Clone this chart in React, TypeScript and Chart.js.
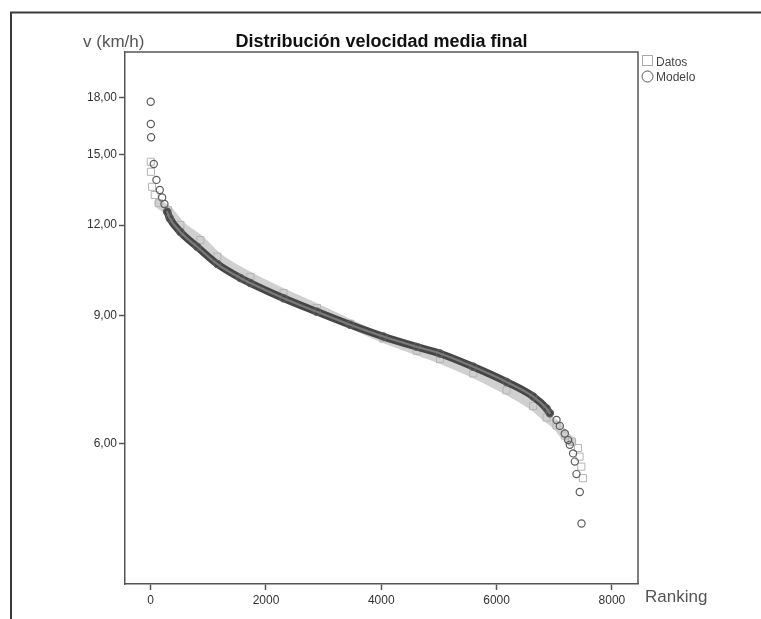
import React, { useEffect, useRef } from "react";
import { Chart, registerables } from "chart.js";

Chart.register(...registerables);

// ---- texts ----
const chartTitle = "Distribución velocidad media final";
const yAxisTitle = "v (km/h)";
const xAxisTitle = "Ranking";
const seriesNames = ["Datos", "Modelo"];

// ---- ticks ----
const yTicks = [6, 9, 12, 15, 18];
const xTicks = [0, 2000, 4000, 6000, 8000];

// ---- series: Datos (observed) ----
const datosRank = [1, 4, 25, 70, 140, 300, 516, 862, 1157, 1728, 2305, 2883, 3460, 4036, 4615, 5018, 5595, 6173, 6634, 6866, 7039, 7183, 7307, 7410, 7439, 7469, 7496];
const datosValue = [14.67, 14.21, 13.55, 13.2, 12.86, 12.58, 12.0, 11.44, 10.85, 10.18, 9.67, 9.22, 8.77, 8.37, 8.05, 7.84, 7.49, 7.1, 6.75, 6.51, 6.35, 6.15, 6.03, 5.91, 5.75, 5.57, 5.37];

// ---- series: Modelo (fitted) ----
const modeloRank = [1, 3, 8, 54, 100, 158, 199, 239, 286, 331, 516, 805, 1157, 1555, 1728, 2305, 2883, 3460, 4036, 4615, 5018, 5595, 6173, 6634, 6866, 6923, 7039, 7096, 7183, 7240, 7269, 7326, 7356, 7385, 7442, 7472];
const modeloValue = [17.75, 16.54, 15.86, 14.57, 13.85, 13.41, 13.1, 12.83, 12.52, 12.26, 11.74, 11.2, 10.6, 10.14, 9.98, 9.51, 9.11, 8.74, 8.42, 8.15, 7.98, 7.65, 7.29, 6.96, 6.7, 6.6, 6.46, 6.34, 6.19, 6.06, 5.97, 5.81, 5.66, 5.44, 5.14, 4.65];

// rank ranges where the markers are so dense they merge into a band
const datosBand = [140, 7307];
const modeloBand = [286, 6923];

// axis ranges
const xMin = -445;
const xMax = 8452;
const yMin = 3.837;
const yMax = 20.79;

const FONT = '"Liberation Sans", Arial, sans-serif';

const toPoints = (xs: number[], ys: number[]) => xs.map((x, i) => ({ x, y: ys[i] }));

const bandSegment = (ranks: number[], band: number[]) => (ctx: any) => {
  const a = ranks[ctx.p0DataIndex];
  const b = ranks[ctx.p1DataIndex];
  return a >= band[0] && b <= band[1] ? undefined : "rgba(0,0,0,0)";
};

// lighter core inside the dense circle band (overlapping circle outlines)
const bandCorePlugin = {
  id: "bandCore",
  afterDatasetDraw(chart: any, args: any) {
    if (args.index !== 1) return;
    const pts = args.meta.data;
    const { ctx } = chart;
    ctx.save();
    ctx.strokeStyle = "#7a7a7a";
    ctx.lineWidth = 2.2;
    ctx.lineCap = "round";
    ctx.beginPath();
    let started = false;
    let prev: any = null;
    modeloRank.forEach((r, i) => {
      if (r < modeloBand[0] || r > modeloBand[1]) return;
      const p = pts[i];
      if (!started) {
        ctx.moveTo(p.x, p.y);
        started = true;
      } else {
        ctx.bezierCurveTo(prev.cp2x, prev.cp2y, p.cp1x, p.cp1y, p.x, p.y);
      }
      prev = p;
    });
    ctx.stroke();
    ctx.restore();
  },
};

const decorPlugin = {
  id: "decor",
  afterDraw(chart: any) {
    const { ctx, chartArea: a } = chart;
    ctx.save();
    // outer figure frame
    ctx.strokeStyle = "#3a3a3a";
    ctx.lineWidth = 2;
    ctx.beginPath();
    ctx.moveTo(11, 619);
    ctx.lineTo(11, 12.5);
    ctx.lineTo(761, 12.5);
    ctx.stroke();
    // plot frame (top & right)
    ctx.strokeStyle = "#555";
    ctx.lineWidth = 1.5;
    ctx.beginPath();
    ctx.moveTo(a.left, a.top);
    ctx.lineTo(a.right, a.top);
    ctx.lineTo(a.right, a.bottom);
    ctx.stroke();
    // title
    ctx.fillStyle = "#111";
    ctx.font = `bold 18px ${FONT}`;
    ctx.textAlign = "center";
    ctx.textBaseline = "alphabetic";
    ctx.fillText(chartTitle, (a.left + a.right) / 2, a.top - 5);
    // axis titles
    ctx.fillStyle = "#555";
    ctx.font = `17px ${FONT}`;
    ctx.textAlign = "left";
    ctx.fillText(yAxisTitle, 83, a.top - 5);
    ctx.fillText(xAxisTitle, a.right + 7, a.bottom + 18);
    // legend
    const lx = a.right + 4;
    ctx.lineWidth = 1;
    ctx.strokeStyle = "#aaa";
    ctx.strokeRect(lx + 0.5, a.top + 3.5, 10, 10);
    ctx.strokeStyle = "#555";
    ctx.beginPath();
    ctx.arc(lx + 5.5, a.top + 24.5, 5.5, 0, Math.PI * 2);
    ctx.stroke();
    ctx.fillStyle = "#444";
    ctx.font = `12px ${FONT}`;
    ctx.fillText(seriesNames[0], lx + 14, a.top + 14);
    ctx.fillText(seriesNames[1], lx + 14, a.top + 29);
    ctx.restore();
  },
};

export default function App() {
  const ref = useRef<HTMLCanvasElement>(null);

  useEffect(() => {
    const tickFont = { family: FONT, size: 12 };
    const chart = new Chart(ref.current as HTMLCanvasElement, {
      type: "scatter",
      data: {
        datasets: [
          {
            label: seriesNames[0],
            data: toPoints(datosRank, datosValue),
            showLine: true,
            borderColor: "#d0d0d0",
            borderWidth: 9,
            borderCapStyle: "round",
            borderJoinStyle: "round",
            cubicInterpolationMode: "monotone",
            segment: { borderColor: bandSegment(datosRank, datosBand) },
            pointStyle: "rect",
            pointRadius: 5,
            pointBorderWidth: 1,
            pointBorderColor: "#b4b4b4",
            pointBackgroundColor: "rgba(0,0,0,0)",
            order: 2,
          } as any,
          {
            label: seriesNames[1],
            data: toPoints(modeloRank, modeloValue),
            showLine: true,
            borderColor: "#464646",
            borderWidth: 7.5,
            borderCapStyle: "round",
            borderJoinStyle: "round",
            cubicInterpolationMode: "monotone",
            segment: { borderColor: bandSegment(modeloRank, modeloBand) },
            pointStyle: "circle",
            pointRadius: 3.6,
            pointBorderWidth: 1.2,
            pointBorderColor: "#5c5c5c",
            pointBackgroundColor: "rgba(0,0,0,0)",
            order: 1,
          } as any,
        ],
      },
      options: {
        animation: false,
        responsive: false,
        devicePixelRatio: 1,
        layout: { padding: { left: 0, top: 52, right: 123, bottom: 0 } },
        plugins: {
          legend: { display: false },
          tooltip: { enabled: false },
          title: { display: false },
        },
        scales: {
          x: {
            type: "linear",
            min: xMin,
            max: xMax,
            afterBuildTicks: (s: any) => {
              s.ticks = xTicks.map((v) => ({ value: v }));
            },
            afterFit: (s: any) => {
              s.height = 35;
            },
            ticks: {
              font: tickFont,
              color: "#333",
              padding: 3,
              maxRotation: 0,
              autoSkip: false,
              callback: (v: any) => String(v),
            },
            grid: {
              display: true,
              drawOnChartArea: false,
              drawTicks: true,
              tickLength: 6,
              tickColor: "#555",
              tickWidth: 1.5,
            },
            border: { display: true, color: "#555", width: 1.5 },
          },
          y: {
            type: "logarithmic",
            min: yMin,
            max: yMax,
            afterBuildTicks: (s: any) => {
              s.ticks = yTicks.map((v) => ({ value: v }));
            },
            afterFit: (s: any) => {
              s.width = 125;
            },
            ticks: {
              font: tickFont,
              color: "#333",
              padding: 2,
              autoSkip: false,
              callback: (v: any) => Number(v).toFixed(2).replace(".", ","),
            },
            grid: {
              display: true,
              drawOnChartArea: false,
              drawTicks: true,
              tickLength: 6,
              tickColor: "#555",
              tickWidth: 1.5,
            },
            border: { display: true, color: "#555", width: 1.5 },
          },
        },
      } as any,
      plugins: [bandCorePlugin, decorPlugin],
    });
    return () => chart.destroy();
  }, []);

  return (
    <div style={{ position: "absolute", left: 0, top: 0, width: 761, height: 619, background: "#fff" }}>
      <canvas ref={ref} width={761} height={619} style={{ display: "block", width: 761, height: 619 }} />
    </div>
  );
}
